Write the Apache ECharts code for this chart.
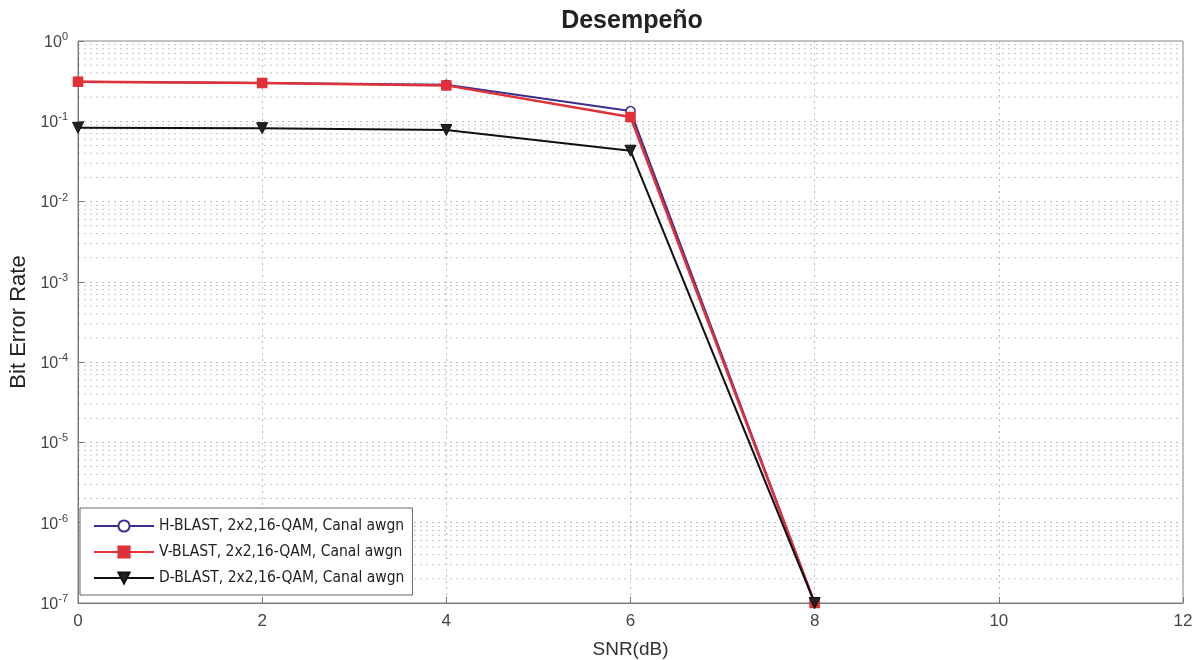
<!DOCTYPE html>
<html><head><meta charset="utf-8">
<script src="https://cdn.jsdelivr.net/npm/echarts@6/dist/echarts.min.js"></script>
<style>html,body{margin:0;padding:0;background:#fff}#c{width:1203px;height:660px}</style>
</head><body><div id="c"></div>
<script>
const snr = [0, 2, 4, 6, 8];
const hBlast = [0.31, 0.30, 0.285, 0.134, 1e-7];
const vBlast = [0.31, 0.30, 0.28, 0.113, 1e-7];
const dBlast = [0.083, 0.082, 0.078, 0.043, 1e-7];
const seriesNames = ['H-BLAST, 2x2,16-QAM, Canal awgn','V-BLAST, 2x2,16-QAM, Canal awgn','D-BLAST, 2x2,16-QAM, Canal awgn'];
const xTicks = [0, 2, 4, 6, 8, 10, 12];

const minorVals = [];
for (let e = -7; e < 0; e++) for (let m = 2; m <= 9; m++) minorVals.push(m * Math.pow(10, e));

const FONT = '"DejaVu Sans Condensed", "Liberation Sans"';
const FONTN = '"Liberation Sans"';
const chart = echarts.init(document.getElementById('c'));
function pairs(arr){ return snr.map((x,i)=>[x,arr[i]]); }
chart.setOption({
  animation:false,
  title:{text:'Desempeño', left:627, top:4, textAlign:'center', textStyle:{fontFamily:FONTN, fontWeight:'bold', fontSize:25, color:'#222'}},
  grid:{left:78, right:20, top:41, bottom:57, show:true, borderColor:'#888', borderWidth:1, outerBoundsMode:'none', containLabel:false},
  xAxis:{type:'value', min:0, max:12, interval:2,
    name:'SNR(dB)', nameLocation:'middle', nameGap:37, nameTextStyle:{fontFamily:FONTN, fontSize:19, color:'#333'},
    axisLine:{lineStyle:{color:'#777'}}, axisTick:{inside:true, length:6, lineStyle:{color:'#777'}},
    axisLabel:{fontFamily:FONTN, fontSize:17, color:'#444', margin:10},
    splitLine:{show:true, lineStyle:{type:[2,4], color:'#bbb'}}},
  yAxis:{type:'log', logBase:10, min:1e-7, max:1,
    name:'Bit Error Rate', nameLocation:'middle', nameGap:44, nameRotate:90, nameTextStyle:{fontFamily:FONTN, fontSize:22, color:'#222'},
    axisLine:{show:true, lineStyle:{color:'#777'}}, axisTick:{inside:true, length:6, lineStyle:{color:'#777'}},
    axisLabel:{color:'#444', margin:10,
      formatter:v=>{const e=Math.round(Math.log10(v)); return '{b|10}{s|'+e+'}';},
      rich:{b:{fontFamily:FONTN, fontSize:16, color:'#444', verticalAlign:'bottom'},
            s:{fontFamily:FONTN, fontSize:11, color:'#444', verticalAlign:'top', padding:[0,0,8,0]}}},
    splitLine:{show:true, lineStyle:{type:[2,4], color:'#bbb'}}},
  legend:{orient:'vertical', left:80, top:508, itemWidth:60, itemHeight:14, itemGap:10,
    padding:[10,8,9,13], borderColor:'#666', borderWidth:1, backgroundColor:'#fff',
    textStyle:{fontFamily:FONT, fontSize:15.5, color:'#222'},
    data:seriesNames},
  series:[
    {type:'custom', name:'__grid', silent:true, z:0, data:minorVals.map(v=>[0,v]),
      renderItem:(params, api)=>{
        const v = api.value(1);
        const p1 = api.coord([0, v]), p2 = api.coord([12, v]);
        return {type:'line', shape:{x1:p1[0], y1:p1[1], x2:p2[0], y2:p2[1]},
          style:{stroke:'#c4c4c4', lineWidth:1, lineDash:[2,4]}};
      }},
    {type:'line', name:seriesNames[0], data:pairs(hBlast), color:'#3a2f8f', symbol:'circle', symbolSize:9,
      itemStyle:{color:'#fff', borderColor:'#3a2f8f', borderWidth:1.5}, lineStyle:{width:2, color:'#3a2f8f'}, z:2},
    {type:'line', name:seriesNames[1], data:pairs(vBlast), color:'#e03038', symbol:'rect', symbolSize:9,
      itemStyle:{color:'#e03038', borderColor:'#e03038', borderWidth:1.5}, lineStyle:{width:2.5, color:'#e03038'}, z:3},
    {type:'line', name:seriesNames[2], data:pairs(dBlast), color:'#111', symbol:'triangle', symbolRotate:180, symbolSize:11,
      itemStyle:{color:'#222', borderColor:'#111', borderWidth:1}, lineStyle:{width:2, color:'#111'}, z:4}
  ]
});
</script></body></html>
